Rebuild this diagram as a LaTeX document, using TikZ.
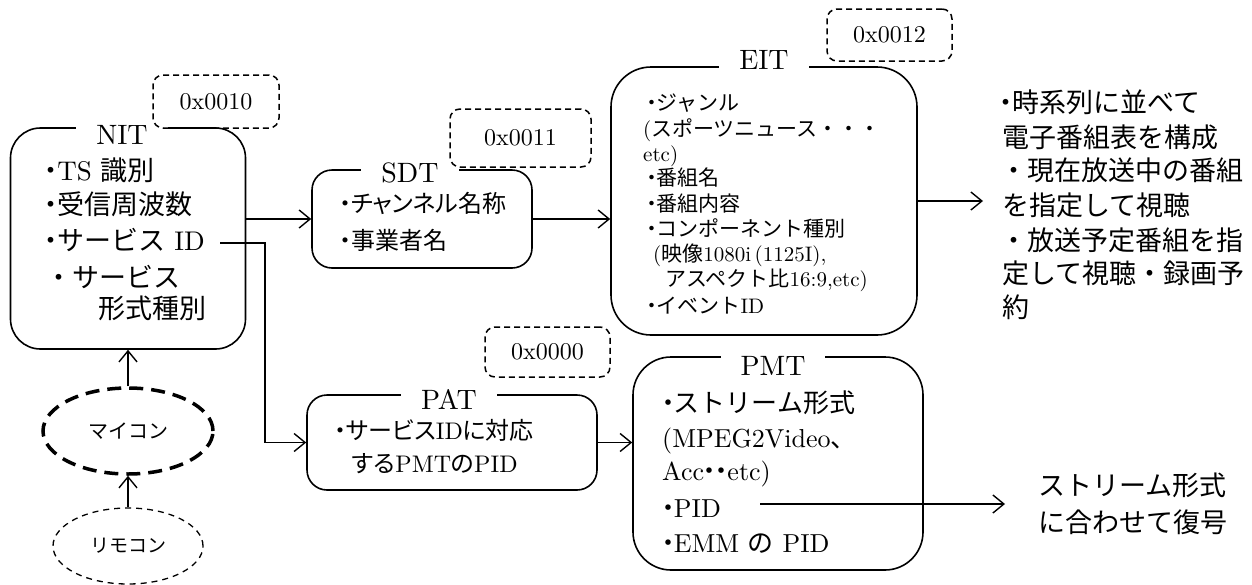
\documentclass[tikz,border=0pt]{standalone}
\usepackage{fontspec}
\setmainfont{lmroman10-regular}[Extension=.otf]
\newfontfamily\jpfont{Noto Sans CJK JP}
\newfontfamily\jppfont{Noto Sans CJK JP}[RawFeature=+palt]
\usetikzlibrary{arrows.meta,shapes.geometric}
\newcommand\J[1]{{\jpfont #1}}
\newcommand\JP[1]{{\jppfont #1}}
\newcommand\fsz[1]{\fontsize{#1}{#1}\selectfont}
\newcommand\bul{\makebox[0.45em][c]{\jpfont ・}}
\begin{document}
\begin{tikzpicture}[x=1pt,y=-1pt,
  box/.style={draw, line width=1.6pt, inner sep=0pt},
  pidbox/.style={draw, dash pattern=on 6pt off 4pt, line width=1.5pt, rounded corners=10pt, inner sep=0pt, font={\fsz{24}}},
  ttl/.style={fill=white, anchor=base, inner xsep=20pt, inner ysep=4pt, font={\fsz{28}}},
  tx/.style={anchor=base west, inner sep=0pt},
  arr/.style={line width=1.4pt, -{Straight Barb[length=11pt,width=18pt,line width=1.4pt]}},
  ln/.style={line width=1.4pt}]
\fill[white] (0,0) rectangle (1252,584);
\useasboundingbox (0,0) rectangle (1252,584);

% ---------- boxes
\node[box, rounded corners=30pt, minimum width=235pt, minimum height=221pt] (nit) at (128,238.5) {};
\node[box, rounded corners=20pt, minimum width=220pt, minimum height=98pt] (sdt) at (422,219) {};
\node[box, rounded corners=40pt, minimum width=306pt, minimum height=268pt] (eit) at (764,201) {};
\node[box, rounded corners=20pt, minimum width=290pt, minimum height=95pt] (pat) at (452,442.5) {};
\node[box, rounded corners=38pt, minimum width=290pt, minimum height=213pt] (pmt) at (778,463.5) {};

% ---------- titles
\node[ttl] (nitT) at (122,144) {NIT};
\node[ttl] (sdtT) at (410,182) {SDT};
\node[ttl] (eitT) at (764,69) {EIT};
\node[ttl] (patT) at (449,409) {PAT};
\node[ttl] (pmtT) at (773,375) {PMT};

% ---------- PID boxes
\node[pidbox, minimum width=126pt, minimum height=53pt] (pid10) at (216,101.5) {0x0010};
\node[pidbox, minimum width=141pt, minimum height=58pt] (pid11) at (520.5,138) {0x0011};
\node[pidbox, minimum width=125pt, minimum height=52pt] (pid12) at (889.5,35) {0x0012};
\node[pidbox, minimum width=125pt, minimum height=50pt] (pid00) at (547.5,352) {0x0000};

% ---------- NIT text
\begin{scope}[every node/.append style={tx, font={\fsz{27}}}]
\node (nit1) at (45,180) {\bul TS \J{識別}};
\node (nit2) at (45,214) {\bul\J{受信周波数}};
\node (nit3) at (45,250) {\bul\J{サービス} ID};
\node (nit4) at (45,287) {\J{・サービス}};
\node (nit5) at (98,318) {\J{形式種別}};
\end{scope}

% ---------- SDT text
\begin{scope}[every node/.append style={tx, font={\fsz{24}}}]
\node (sdt1) at (340,212) {\bul\JP{チャンネル名称}};
\node (sdt2) at (340,249) {\bul\JP{事業者名}};
\end{scope}

% ---------- EIT text
\begin{scope}[every node/.append style={tx, font={\fsz{21}}}]
\node (eit1) at (647,110) {\bul\J{ジャンル}};
\node (eit2) at (643,136) {(\J{スポーツニュース・・・}};
\node (eit3) at (643,161) {etc)};
\node (eit4) at (647,185) {\bul\J{番組名}};
\node (eit5) at (647,211) {\bul\J{番組内容}};
\node (eit6) at (647,236) {\bul\J{コンポーネント種別}};
\node (eit7) at (653,261) {(\J{映像}1080i\,(1125I),};
\node (eit8) at (665,286) {\J{アスペクト比}16:9,etc)};
\node (eit9) at (647,313) {\bul\J{イベント}ID};
\end{scope}

% ---------- PAT text
\begin{scope}[every node/.append style={tx, font={\fsz{24}}}]
\node (pat1) at (335,439) {\bul\JP{サービス}ID\JP{に対応}};
\node (pat2) at (352,472) {\JP{する}PMT\JP{の}PID};
\end{scope}

% ---------- PMT text
\begin{scope}[every node/.append style={tx, font={\fsz{26}}}]
\node (pmt1) at (662,412) {\bul\J{ストリーム形式}};
\node (pmt2) at (662,447) {(MPEG2Video\J{、}};
\node (pmt3) at (662,480) {Acc\bul\bul etc)};
\node (pmt4) at (662,517) {\bul PID};
\node (pmt5) at (662,552) {\bul EMM \J{の} PID};
\end{scope}

% ---------- right texts
\begin{scope}[every node/.append style={tx, font={\fsz{27}}}]
\node (r11) at (1000,112) {\bul\J{時系列に並べて}};
\node (r12) at (1002,147) {\J{電子番組表を構成}};
\node (r13) at (1000,180) {\J{・現在放送中の番組}};
\node (r14) at (1002,215) {\J{を指定して視聴}};
\node (r15) at (1000,250) {\J{・放送予定番組を指}};
\node (r16) at (1002,283) {\J{定して視聴・録画予}};
\node (r17) at (1002,317) {\J{約}};
\node (r21) at (1038,495) {\J{ストリーム形式}};
\node (r22) at (1038,532) {\J{に合わせて復号}};
\end{scope}

% ---------- ellipses
\node[draw, ellipse, line width=3.5pt, dash pattern=on 14pt off 8pt, minimum width=170pt, minimum height=86pt, inner sep=0pt, font={\fsz{20}}] (mc) at (128,431) {\J{マイコン}};
\node[draw, ellipse, line width=1.3pt, dash pattern=on 6pt off 5pt, minimum width=150pt, minimum height=76pt, inner sep=0pt, font={\fsz{19}}] (rc) at (128,546) {\J{リモコン}};

% ---------- connectors
\coordinate (sidEnd) at (220,243);
\coordinate (sidTurn) at (265,243);
\coordinate (eitOut) at (983,201);
\coordinate (pidStart) at (760,504);
\coordinate (pidOut) at (1005,504);

\draw[arr] (sdt.west -| nit.east) -- (sdt.west);
\draw[arr] (sdt.east) -- (sdt.east -| eit.west);
\draw[arr] (eit.east) -- (eitOut);
\draw[arr] (sidEnd) -- (sidTurn) |- (pat.west);
\draw[arr] (pat.east) -- (pat.east -| pmt.west);
\draw[arr] (pidStart) -- (pidOut);
\draw[arr] (mc.north) -- (mc.north |- nit.south);
\draw[arr] (rc.north) -- (mc.south);
\end{tikzpicture}
\end{document}
